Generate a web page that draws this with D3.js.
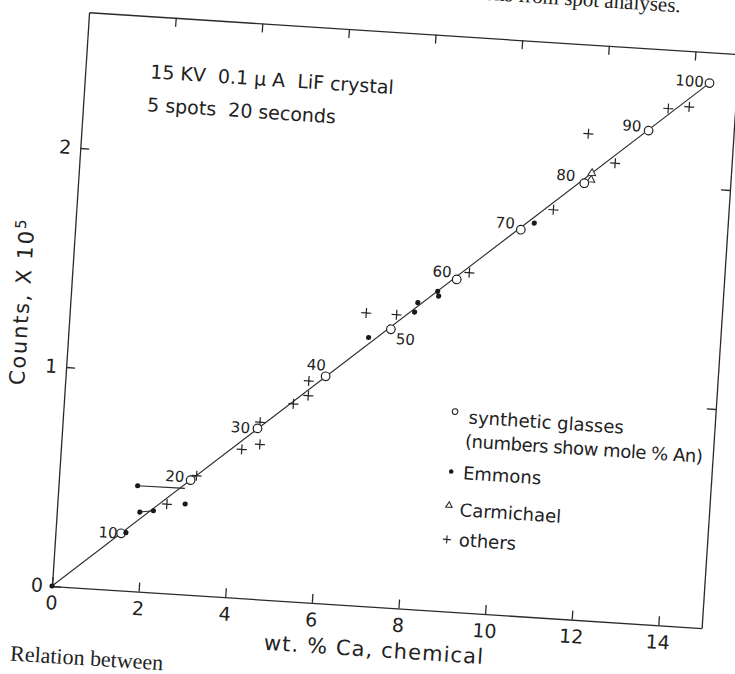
<!DOCTYPE html>
<html>
<head>
<meta charset="utf-8">
<script src="https://cdn.jsdelivr.net/npm/d3@7/dist/d3.min.js"></script>
<style>
  body { margin: 0; background: #fff; }
  svg { display: block; }
  text { font-family: "DejaVu Sans", sans-serif; fill: #222; }
  .axis path, .axis line { stroke: #2a2a2a; stroke-width: 1.3; }
  .axis text { font-family: "DejaVu Sans", sans-serif; font-size: 19px; fill: #222; }
</style>
</head>
<body>
<div id="chart"></div>
<script>
// synthetic glasses: wt % Ca, counts (x 10^5), mole % An
const glassCa = [1.51, 3.03, 4.49, 5.98, 7.41, 8.85, 10.25, 11.64, 13.04, 14.37];
const glassCounts = [0.260, 0.522, 0.777, 1.034, 1.267, 1.513, 1.758, 1.988, 2.246, 2.480];
const glassAn = [10, 20, 30, 40, 50, 60, 70, 80, 90, 100];

// Emmons
const emmonsCa = [0, 1.62, 1.82, 1.91, 2.22, 2.94, 6.91, 7.93, 7.99, 8.43, 8.46, 10.55];
const emmonsCounts = [0, 0.264, 0.481, 0.362, 0.372, 0.412, 1.223, 1.352, 1.396, 1.453, 1.432, 1.792];

// Carmichael
const carmCa = [11.79, 11.80];
const carmCounts = [2.006, 2.036];

// others
const otherCa = [2.52, 3.16, 4.16, 4.57, 4.54, 5.28, 5.61, 5.60, 6.82, 7.52, 9.13, 10.97, 11.66, 12.32, 13.46, 13.94];
const otherCounts = [0.406, 0.544, 0.677, 0.705, 0.806, 0.899, 0.941, 1.008, 1.334, 1.335, 1.547, 1.858, 2.214, 2.088, 2.352, 2.366];

// calibration line and tie lines
const fitCa = [0, 14.37];
const fitCounts = [0, 2.48];
const tieLines = [
  [[1.82, 0.481], [2.91, 0.483]],
  [[1.91, 0.362], [2.22, 0.372]]
];

const xTicks = [0, 2, 4, 6, 8, 10, 12, 14];
const yTicks = [0, 1, 2];

document.addEventListener("DOMContentLoaded", () => {
    let width = 651, height = 575;
    let tilt = 3.7; // the scanned page sits slightly askew

    let svg = d3.select("#chart")
        .append("svg")
        .attr("width", 735)
        .attr("height", 674);

    let g = svg.append("g")
        .attr("transform", "translate(52,586) rotate(" + tilt + ") translate(0," + (-height) + ")");

    let x = d3.scaleLinear().domain([0, 15]).range([0, width]);
    let y = d3.scaleLinear().domain([0, 2.62]).range([height, 0]);

    // frame with inward ticks
    g.append("g").attr("class", "axis")
        .attr("transform", "translate(0," + height + ")")
        .call(d3.axisBottom(x).tickValues(xTicks).tickSize(-9).tickSizeOuter(0).tickPadding(10).tickFormat(d3.format("d")));
    g.append("g").attr("class", "axis")
        .call(d3.axisLeft(y).tickValues(yTicks).tickSize(-9).tickSizeOuter(0).tickPadding(9).tickFormat(d3.format("d")));
    g.append("g").attr("class", "axis")
        .call(d3.axisTop(x).tickValues(xTicks.slice(1)).tickSize(-9).tickSizeOuter(0).tickFormat(""));
    g.append("g").attr("class", "axis")
        .attr("transform", "translate(" + width + ",0)")
        .call(d3.axisRight(y).tickValues(yTicks.slice(1)).tickSize(-9).tickSizeOuter(0).tickFormat(""));

    // axis titles
    g.append("text")
        .attr("x", width / 2)
        .attr("y", height + 50)
        .attr("text-anchor", "middle")
        .style("font-size", "21px")
        .style("letter-spacing", "1.1px")
        .text("wt. % Ca, chemical");

    let yt = g.append("text")
        .attr("transform", "translate(-41," + 293 + ") rotate(-90)")
        .attr("text-anchor", "middle")
        .style("font-size", "21px")
        .style("letter-spacing", "1.8px");
    yt.append("tspan").text("Counts, X 10");
    yt.append("tspan").attr("dy", "-0.55em").style("font-size", "15px").text("5");

    // run conditions
    g.append("text").attr("x", 65).attr("y", 62)
        .style("font-size", "19px").style("white-space", "pre")
        .text("15 KV  0.1 \u03bc A  LiF crystal");
    g.append("text").attr("x", 64).attr("y", 95)
        .style("font-size", "19px").style("white-space", "pre")
        .text("5 spots  20 seconds");

    // calibration line
    let line = d3.line().x(d => x(d[0])).y(d => y(d[1]));
    g.append("path")
        .datum(fitCa.map((c, i) => [c, fitCounts[i]]))
        .attr("d", line)
        .attr("fill", "none")
        .attr("stroke", "#2a2a2a")
        .attr("stroke-width", 1.1);

    g.selectAll(".tie")
        .data(tieLines)
        .enter()
        .append("path")
        .attr("class", "tie")
        .attr("d", line)
        .attr("fill", "none")
        .attr("stroke", "#2a2a2a")
        .attr("stroke-width", 1.1);

    // others
    g.selectAll(".plus")
        .data(otherCa.map((c, i) => [c, otherCounts[i]]))
        .enter()
        .append("path")
        .attr("class", "plus")
        .attr("transform", d => "translate(" + x(d[0]) + "," + y(d[1]) + ")")
        .attr("d", "M-5,0H5M0,-5V5")
        .attr("stroke", "#222")
        .attr("stroke-width", 1.2);

    // Carmichael
    g.selectAll(".tri")
        .data(carmCa.map((c, i) => [c, carmCounts[i]]))
        .enter()
        .append("path")
        .attr("class", "tri")
        .attr("transform", d => "translate(" + x(d[0]) + "," + y(d[1]) + ")")
        .attr("d", d3.symbol().type(d3.symbolTriangle).size(26))
        .attr("fill", "#fff")
        .attr("stroke", "#222")
        .attr("stroke-width", 1);

    // synthetic glasses
    g.selectAll(".glass")
        .data(glassCa.map((c, i) => [c, glassCounts[i], glassAn[i]]))
        .enter()
        .append("circle")
        .attr("class", "glass")
        .attr("cx", d => x(d[0]))
        .attr("cy", d => y(d[1]))
        .attr("r", 4.3)
        .attr("fill", "#fff")
        .attr("stroke", "#222")
        .attr("stroke-width", 1.2);

    // Emmons
    g.selectAll(".emm")
        .data(emmonsCa.map((c, i) => [c, emmonsCounts[i]]))
        .enter()
        .append("circle")
        .attr("class", "emm")
        .attr("cx", d => x(d[0]))
        .attr("cy", d => y(d[1]))
        .attr("r", 2.6)
        .attr("fill", "#1a1a1a");

    // mole % An labels beside the glasses
    let labelShift = {
        10: [-13, 0], 20: [-16, -3], 30: [-17, 0], 40: [-10, -11], 50: [15, 9],
        60: [-15, -7], 70: [-16, -6], 80: [-19, -7], 90: [-17, -4], 100: [-20, -1]
    };
    g.selectAll(".anlab")
        .data(glassCa.map((c, i) => [c, glassCounts[i], glassAn[i]]))
        .enter()
        .append("text")
        .attr("class", "anlab")
        .attr("x", d => x(d[0]) + labelShift[d[2]][0])
        .attr("y", d => y(d[1]) + labelShift[d[2]][1])
        .attr("dy", "0.36em")
        .attr("text-anchor", "middle")
        .style("font-size", "15px")
        .text(d => d[2]);

    // legend
    let lg = g.append("g");
    lg.append("circle").attr("cx", 391).attr("cy", 375).attr("r", 2.8)
        .attr("fill", "#fff").attr("stroke", "#222").attr("stroke-width", 1);
    lg.append("text").attr("x", 405).attr("y", 386).style("font-size", "18px").text("synthetic glasses");
    lg.append("text").attr("x", 403).attr("y", 410).style("font-size", "18px")
        .style("letter-spacing", "-0.45px").text("(numbers show mole % An)");
    lg.append("circle").attr("cx", 391).attr("cy", 435).attr("r", 2.3).attr("fill", "#1a1a1a");
    lg.append("text").attr("x", 403).attr("y", 442).style("font-size", "18px").text("Emmons");
    lg.append("path").attr("transform", "translate(391,469)")
        .attr("d", d3.symbol().type(d3.symbolTriangle).size(18))
        .attr("fill", "#fff").attr("stroke", "#222").attr("stroke-width", 1);
    lg.append("text").attr("x", 402).attr("y", 479).style("font-size", "18px").text("Carmichael");
    lg.append("path").attr("transform", "translate(391,503)")
        .attr("d", "M-4,0H4M0,-4V4").attr("stroke", "#222").attr("stroke-width", 1.1);
    lg.append("text").attr("x", 403).attr("y", 509).style("font-size", "18px").text("others");

    // caption fragments of the scanned page
    g.append("text").attr("x", 590).attr("y", -38)
        .attr("text-anchor", "end")
        .style("font-family", "'Liberation Serif', serif").style("font-size", "21px")
        .text("Ca determinations from spot analyses.");
    g.append("text").attr("x", 116).attr("y", 652)
        .attr("text-anchor", "end")
        .style("font-family", "'Liberation Serif', serif").style("font-size", "22px")
        .text("Relation between");
});
</script>
</body>
</html>
